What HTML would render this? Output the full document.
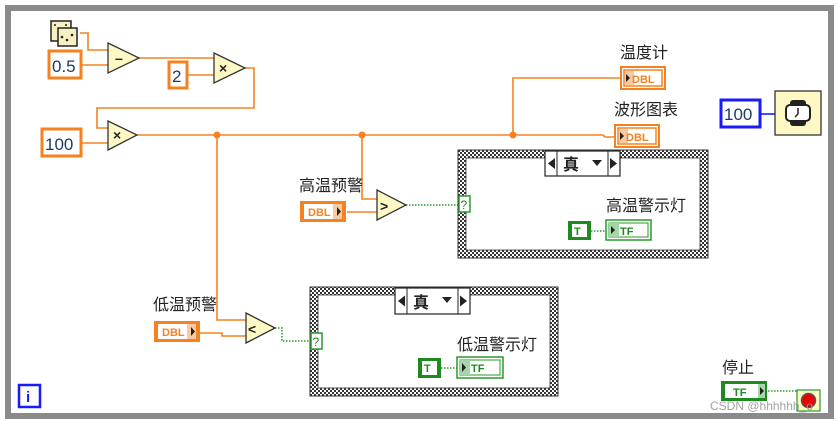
<!DOCTYPE html>
<html><head><meta charset="utf-8"><style>
html,body{margin:0;padding:0;background:#fff;}
svg{display:block;}
text{font-family:"Liberation Sans","Noto Sans CJK SC",sans-serif;}
</style></head><body>
<svg width="838" height="421" viewBox="0 0 838 421" xmlns="http://www.w3.org/2000/svg">
<defs>
<pattern id="chk" width="4" height="4" patternUnits="userSpaceOnUse">
<rect width="4" height="4" fill="#fff"/>
<rect x="0" y="0" width="2" height="2" fill="#333"/>
<rect x="2" y="2" width="2" height="2" fill="#333"/>
</pattern>
</defs>
<rect width="838" height="421" fill="#fff"/>
<!-- outer frame -->
<rect x="8" y="8" width="823" height="408" fill="none" stroke="#8a8a8a" stroke-width="6"/>

<!-- wires orange -->
<g stroke="#f58220" stroke-width="1.6" fill="none">
<polyline points="80,33 88,33 88,50 108,50"/>
<line x1="82" y1="65" x2="108" y2="65"/>
<line x1="139" y1="58" x2="214" y2="58"/>
<line x1="188" y1="75" x2="214" y2="75"/>
<polyline points="245,68 254,68 254,108 97,108 97,128 108,128"/>
<line x1="82" y1="143" x2="108" y2="143"/>
<polyline points="137,135 603,135 605,137 616,137"/>
<polyline points="513,135 513,78 622,78"/>
<polyline points="362,135 362,199 377,199"/>
<line x1="347" y1="212" x2="377" y2="212"/>
<polyline points="217,135 217,320 246,320"/>
<polyline points="200,333 222,333 222,336 246,336"/>
</g>
<g fill="#f58220">
<circle cx="217" cy="135" r="3.5"/>
<circle cx="362" cy="135" r="3.5"/>
<circle cx="513" cy="135" r="3.5"/>
</g>
<!-- green dotted wires -->
<g stroke="#2a9a2a" stroke-width="1.6" fill="none" stroke-dasharray="1.5,1.5">
<line x1="406" y1="205" x2="460" y2="205"/>
<polyline points="275,328 282,328 282,341 312,341"/>
<line x1="591" y1="231" x2="606" y2="231"/>
<line x1="441" y1="368" x2="457" y2="368"/>
<line x1="768" y1="391" x2="798" y2="391"/>
</g>
<line x1="760" y1="114" x2="775" y2="114" stroke="#1a1aff" stroke-width="1.6"/>

<!-- dice -->
<rect x="51" y="21" width="20" height="20" fill="#f7f0c0" stroke="#222" stroke-width="1.5"/>
<rect x="58" y="28" width="19" height="18" fill="#f7f0c0" stroke="#222" stroke-width="1.5"/>
<circle cx="62" cy="37" r="1.3" fill="#222"/><circle cx="67" cy="40" r="1.3" fill="#222"/><circle cx="72" cy="35" r="1.3" fill="#222"/>
<circle cx="55" cy="25" r="1" fill="#222"/><circle cx="66" cy="25" r="1" fill="#222"/>

<!-- constants -->
<g fill="#fff" stroke="#f58220" stroke-width="3">
<rect x="49" y="51" width="32" height="27"/>
<rect x="169" y="62" width="18" height="26"/>
<rect x="42" y="129" width="39" height="27"/>
</g>
<g font-size="17" fill="#1b3a6a">
<text x="52" y="72">0.5</text>
<text x="172" y="82">2</text>
<text x="45" y="150">100</text>
</g>

<!-- triangles -->
<g fill="#fdf8c4" stroke="#333" stroke-width="1.3">
<polygon points="108,43 139,58 108,73"/>
<polygon points="214,53 245,68 214,83"/>
<polygon points="108,121 137,135 108,150"/>
<polygon points="377,190 406,205 377,220"/>
<polygon points="246,313 275,328 246,343"/>
</g>
<g font-size="14" font-weight="bold" fill="#222">
<text x="115" y="63">–</text>
<text x="219" y="73">×</text>
<text x="113" y="140">×</text>
<text x="380" y="211">&gt;</text>
<text x="248" y="334">&lt;</text>
</g>

<!-- indicators DBL -->
<g>
<rect x="621" y="67" width="44" height="22" fill="#fff" stroke="#f58220" stroke-width="2"/>
<rect x="624" y="70" width="38" height="16" fill="#fff" stroke="#f58220" stroke-width="1.5"/>
<rect x="625" y="71" width="9" height="14" fill="#f9c9a0"/>
<polygon points="626,74 630,78 626,82" fill="#222"/>
<text x="632" y="83" font-size="11" font-weight="bold" fill="#f58220">DBL</text>

<rect x="615" y="125" width="44" height="22" fill="#fff" stroke="#f58220" stroke-width="2"/>
<rect x="618" y="128" width="38" height="16" fill="#fff" stroke="#f58220" stroke-width="1.5"/>
<rect x="619" y="129" width="9" height="14" fill="#f9c9a0"/>
<polygon points="620,132 624,136 620,140" fill="#222"/>
<text x="626" y="141" font-size="11" font-weight="bold" fill="#f58220">DBL</text>
</g>
<g font-size="16" fill="#222">
<text x="620" y="58">温度计</text>
<text x="614" y="115">波形图表</text>
<text x="299" y="191">高温预警</text>
<text x="153" y="310">低温预警</text>
<text x="722" y="373">停止</text>
</g>
<!-- controls DBL -->
<g>
<rect x="300" y="201" width="46" height="21" fill="#f58220"/>
<rect x="304" y="204" width="38" height="15" fill="#fff"/>
<rect x="333" y="204" width="9" height="15" fill="#f9c9a0"/>
<polygon points="337,207 341,211.5 337,216" fill="#222"/>
<text x="308" y="216" font-size="11" font-weight="bold" fill="#f58220">DBL</text>

<rect x="154" y="321" width="46" height="21" fill="#f58220"/>
<rect x="158" y="324" width="38" height="15" fill="#fff"/>
<rect x="187" y="324" width="9" height="15" fill="#f9c9a0"/>
<polygon points="191,327 195,331.5 191,336" fill="#222"/>
<text x="162" y="336" font-size="11" font-weight="bold" fill="#f58220">DBL</text>
</g>

<!-- timer -->
<rect x="721" y="100" width="39" height="27" fill="#fff" stroke="#1a1aff" stroke-width="3"/>
<text x="724" y="120" font-size="17" fill="#1b3a6a">100</text>
<rect x="775" y="91" width="46" height="44" fill="#fdf8c4" stroke="#333" stroke-width="1.3"/>
<rect x="790" y="100" width="16" height="26" rx="3" fill="#222"/>
<rect x="786" y="105" width="24" height="16" rx="4" fill="#fff" stroke="#222" stroke-width="2"/>
<line x1="798" y1="108" x2="798" y2="114" stroke="#222" stroke-width="1.5"/>
<line x1="798" y1="114" x2="795" y2="117" stroke="#222" stroke-width="1.5"/>

<!-- case structure 1 -->
<rect x="462" y="154" width="242" height="100" fill="none" stroke="url(#chk)" stroke-width="8"/>
<rect x="458" y="150" width="250" height="108" fill="none" stroke="#333" stroke-width="1"/>
<rect x="466" y="158" width="234" height="92" fill="none" stroke="#333" stroke-width="0.8"/>
<rect x="545" y="151" width="75" height="25" fill="#fff" stroke="#222" stroke-width="1.2"/>
<line x1="557" y1="151" x2="557" y2="176" stroke="#222"/><line x1="608" y1="151" x2="608" y2="176" stroke="#222"/>
<polygon points="548,163.5 555,158 555,169" fill="#222"/>
<polygon points="617,163.5 610,158 610,169" fill="#222"/>
<polygon points="592,160 602,160 597,166" fill="#222"/>
<text x="563" y="170" font-size="16" font-weight="bold" fill="#222">真</text>
<rect x="459" y="196" width="11" height="16" fill="#fff" stroke="#2a9a2a" stroke-width="1.5"/>
<text x="460.5" y="209" font-size="12" fill="#2a7a2a">?</text>
<text x="606" y="211" font-size="16" fill="#222">高温警示灯</text>
<rect x="568" y="221" width="23" height="19" fill="#1f8a1f"/>
<rect x="572" y="224" width="15" height="13" fill="#fff"/>
<text x="574" y="235" font-size="11" font-weight="bold" fill="#1f8a1f">T</text>
<rect x="606" y="220" width="45" height="20" fill="#fff" stroke="#2a9a2a" stroke-width="1.5"/>
<rect x="609" y="223" width="39" height="14" fill="#fff" stroke="#2a9a2a" stroke-width="1"/>
<rect x="609" y="223" width="10" height="14" fill="#a5d6a5"/>
<polygon points="611,226 615,230 611,234" fill="#222"/>
<text x="620" y="235" font-size="11" font-weight="bold" fill="#1f8a1f">TF</text>

<!-- case structure 2 -->
<rect x="314" y="291" width="240" height="101" fill="none" stroke="url(#chk)" stroke-width="8"/>
<rect x="310" y="287" width="248" height="109" fill="none" stroke="#333" stroke-width="1"/>
<rect x="318" y="295" width="232" height="93" fill="none" stroke="#333" stroke-width="0.8"/>
<rect x="395" y="288" width="75" height="26" fill="#fff" stroke="#222" stroke-width="1.2"/>
<line x1="407" y1="288" x2="407" y2="314" stroke="#222"/><line x1="458" y1="288" x2="458" y2="314" stroke="#222"/>
<polygon points="398,301 405,295.5 405,306.5" fill="#222"/>
<polygon points="467,301 460,295.5 460,306.5" fill="#222"/>
<polygon points="442,297 452,297 447,303" fill="#222"/>
<text x="413" y="308" font-size="16" font-weight="bold" fill="#222">真</text>
<rect x="311" y="333" width="11" height="16" fill="#fff" stroke="#2a9a2a" stroke-width="1.5"/>
<text x="312.5" y="346" font-size="12" fill="#2a7a2a">?</text>
<text x="457" y="350" font-size="16" fill="#222">低温警示灯</text>
<rect x="418" y="358" width="23" height="20" fill="#1f8a1f"/>
<rect x="422" y="361" width="15" height="14" fill="#fff"/>
<text x="424" y="372" font-size="11" font-weight="bold" fill="#1f8a1f">T</text>
<rect x="457" y="357" width="46" height="21" fill="#fff" stroke="#2a9a2a" stroke-width="1.5"/>
<rect x="460" y="360" width="40" height="15" fill="#fff" stroke="#2a9a2a" stroke-width="1"/>
<rect x="460" y="360" width="10" height="15" fill="#a5d6a5"/>
<polygon points="462,363 466,367.5 462,372" fill="#222"/>
<text x="471" y="372" font-size="11" font-weight="bold" fill="#1f8a1f">TF</text>

<!-- stop control -->
<rect x="721" y="381" width="46" height="20" fill="#1f8a1f"/>
<rect x="725" y="384" width="33" height="14" fill="#fff"/>
<rect x="758" y="384" width="7" height="14" fill="#a5d6a5"/>
<polygon points="760,387 764,391 760,395" fill="#222"/>
<text x="733" y="396" font-size="11" font-weight="bold" fill="#1f8a1f">TF</text>
<rect x="797" y="390" width="23" height="21" fill="#fdf8c4" stroke="#2a9a2a" stroke-width="1.2"/>
<circle cx="808.5" cy="400.5" r="7" fill="#e00" stroke="#555" stroke-width="1.5"/>

<!-- iteration -->
<rect x="19" y="385" width="21" height="22" fill="#fff" stroke="#1a1aff" stroke-width="2.5"/>
<text x="26" y="402" font-size="15" font-weight="bold" fill="#1a1aff">i</text>

<text x="710" y="410" font-size="12" fill="#999" opacity="0.9">CSDN @hhhhhh_o</text>
</svg>
</body></html>
